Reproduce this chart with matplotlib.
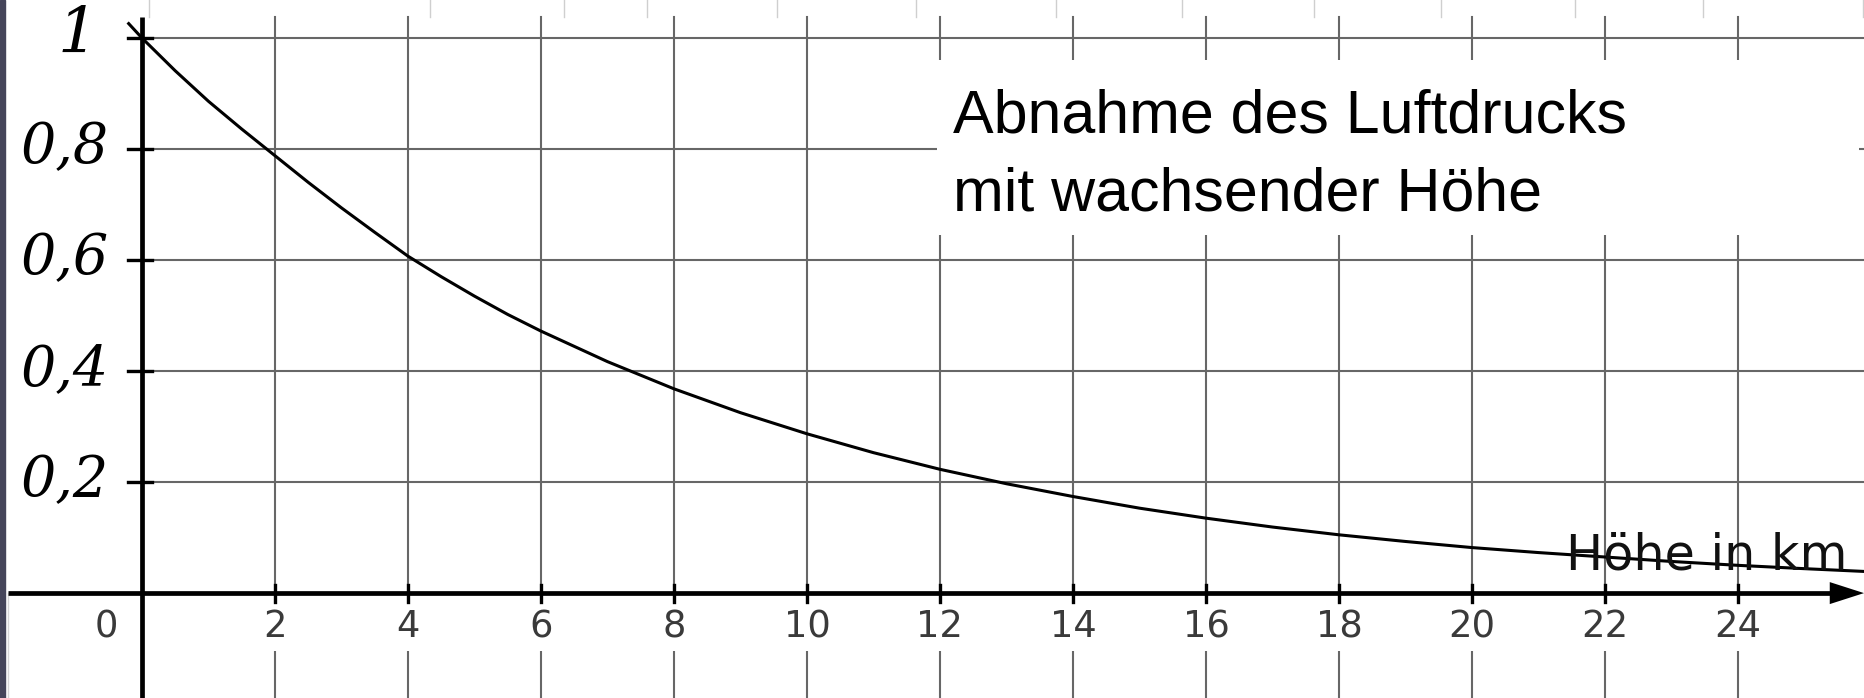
import matplotlib
matplotlib.use("Agg")
import matplotlib.pyplot as plt
from matplotlib.patches import Polygon, Rectangle

# relative air pressure (p/p0) against altitude in km
hoehe = [-0.2, 0, 0.5, 1, 1.5, 2, 2.5, 3, 3.5, 4, 4.5, 5, 5.5, 6, 7, 8, 9,
         10, 11, 12, 13, 14, 15, 16, 17, 18, 19, 20, 21, 22, 23, 24, 25, 25.9]
druck = [1.026, 1.0, 0.941, 0.886, 0.836, 0.788, 0.740, 0.694, 0.650, 0.607,
         0.570, 0.535, 0.502, 0.472, 0.417, 0.368, 0.325, 0.287, 0.253,
         0.223, 0.197, 0.174, 0.153, 0.135, 0.119, 0.105, 0.093, 0.082,
         0.073, 0.065, 0.057, 0.050, 0.044, 0.039]

x_ticks = [2, 4, 6, 8, 10, 12, 14, 16, 18, 20, 22, 24]
x_tick_labels = ["2", "4", "6", "8", "10", "12", "14", "16", "18", "20", "22", "24"]
y_ticks = [0.2, 0.4, 0.6, 0.8, 1.0]
y_tick_labels = ["0,2", "0,4", "0,6", "0,8", "1"]

# faint lines of the picture behind, visible in the strip at the top
top_strip_x = [0.1, 4.33, 6.35, 7.6, 9.55, 11.64, 13.74, 15.64, 17.62,
               19.53, 21.55, 23.47, 25.88]

title_lines = ["Abnahme des Luftdrucks", "mit wachsender Höhe"]
x_label = "Höhe in km"

# size of one pixel in data units
PX = 1 / 66.5
PY = 1 / 555

x_min, x_max = -2.135, 25.895
y_min, y_max = -0.189, 1.0685
panel_top = 1.038

fig = plt.figure(figsize=(18.64, 6.98), dpi=100)
ax = fig.add_axes([0, 0, 1, 1])
ax.set_xlim(x_min, x_max)
ax.set_ylim(y_min, y_max)
ax.axis("off")

# dark slide border on the left
ax.axvspan(x_min, x_min + 5 * PX, color="#45455a", zorder=6)

# top strip
for x in top_strip_x:
    ax.plot([x, x], [panel_top, y_max], color="#cfcfcf", lw=1.0, zorder=1)

# grid
grid_kw = dict(color="#676767", lw=1.5, zorder=1)
for t in x_ticks:
    ax.plot([t, t], [y_min, panel_top], **grid_kw)
for v in y_ticks:
    ax.plot([-0.21, x_max], [v, v], **grid_kw)
ax.plot([x_min + 8 * PX] * 2, [y_min, 0], color="#d5d5d5", lw=1.0, zorder=1)

# white box with the title
ax.add_patch(Rectangle((11.95, 0.645), 13.87, 0.315, facecolor="white",
                       edgecolor="none", zorder=2))
ax.text(12.2, 0.829, title_lines[0], fontsize=43.8, family="Liberation Sans",
        va="baseline", ha="left", zorder=3)
ax.text(12.2, 0.690, title_lines[1], fontsize=43.8, family="Liberation Sans",
        va="baseline", ha="left", zorder=3)

# curve
ax.plot(hoehe, druck, color="black", lw=2.2, zorder=3.5,
        solid_joinstyle="round")

# axes with arrow
ax.plot([x_min + 8 * PX, 25.4], [0, 0], color="black", lw=3.4, zorder=4,
        solid_capstyle="butt")
ax.add_patch(Polygon([(25.38, 11 * PY), (x_max, 0), (25.38, -11 * PY)],
                     closed=True, facecolor="black", edgecolor="none", zorder=4))
ax.plot([0, 0], [y_min, panel_top], color="black", lw=3.4, zorder=4,
        solid_capstyle="butt")

# tick marks
for v in y_ticks:
    ax.plot([-0.21, 0.15], [v, v], color="black", lw=2.4, zorder=4)
for t in x_ticks:
    ax.plot([t, t], [0.0144, -0.0162], color="black", lw=2.4, zorder=4)

# tick labels
for v, lab in zip(y_ticks, y_tick_labels):
    if lab == "1":
        ax.text(-0.66, v - 15 * PY, lab, fontsize=45.5, family="DejaVu Serif",
                style="italic", ha="right", va="baseline", zorder=5)
    else:
        ax.text(-0.5, v - 14 * PY, lab, fontsize=40, family="DejaVu Serif",
                style="italic", ha="right", va="baseline", zorder=5)

label_box = dict(facecolor="white", edgecolor="none", pad=4)
for t, lab in zip(x_ticks, x_tick_labels):
    ax.text(t, -0.061, lab, fontsize=26.6, color="#3a3a3a", ha="center",
            va="center", bbox=label_box, zorder=2)
ax.text(-0.53, -0.061, "0", fontsize=26.6, color="#3a3a3a", ha="center",
        va="center", zorder=2)

ax.text(21.42, 0.043, x_label, fontsize=35.5, color="#111111", ha="left",
        va="baseline", zorder=5)

fig.savefig("out.png", dpi=100)
